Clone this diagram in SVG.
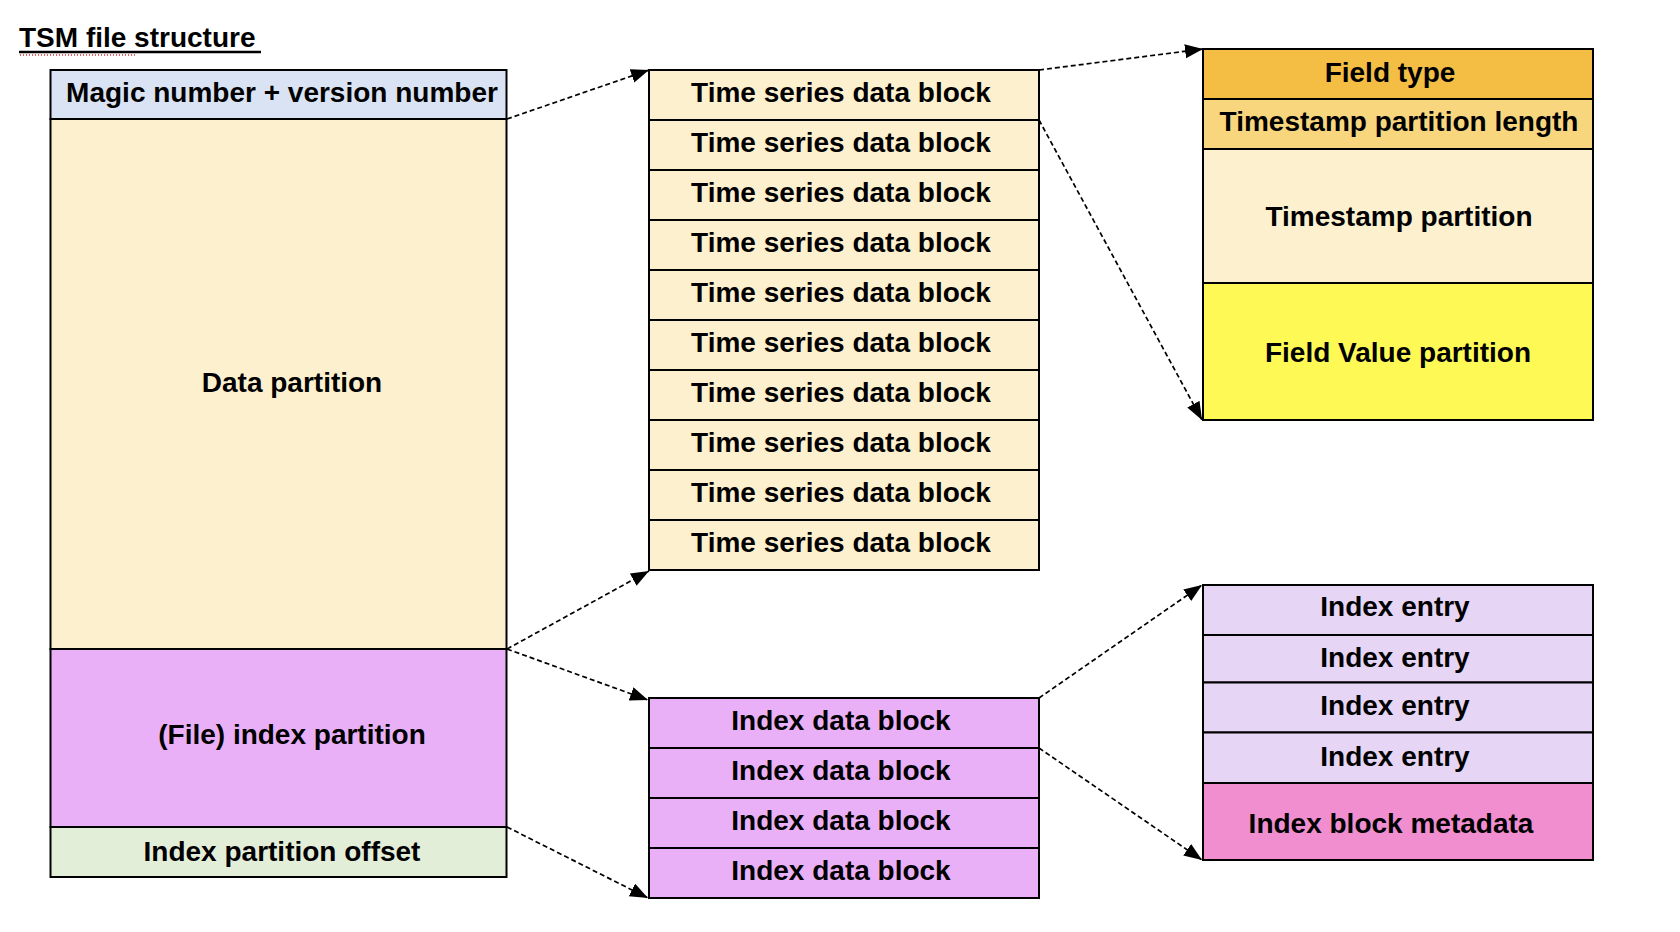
<svg xmlns="http://www.w3.org/2000/svg" width="1680" height="932" viewBox="0 0 1680 932">
<defs>
<style>
text{font-family:"Liberation Sans",Arial,sans-serif;font-weight:bold;font-size:28px;fill:#000;text-anchor:middle}
.b{stroke:#000;stroke-width:2}
.c{fill:none;stroke:#000;stroke-width:1.7;stroke-dasharray:5 3}
.magic{fill:#dae3f3}
.cream{fill:#fcf0cf}
.violet{fill:#e9b0f7}
.green{fill:#e3eed9}
.ftype{fill:#f4bd44}
.tpl{fill:#f8d67e}
.yellow{fill:#fef954}
.entry{fill:#e7d5f6}
.meta{fill:#f08ecf}
</style>
<marker id="ah" markerUnits="userSpaceOnUse" markerWidth="20" markerHeight="16" refX="18" refY="7" orient="auto">
<path d="M0,0 L18,7 L0,14 z" fill="#000"/>
</marker>
</defs>
<rect width="1680" height="932" fill="#fff"/>
<g id="title">
<text x="19" y="47" style="text-anchor:start">TSM file structure</text>
<line x1="19" y1="52" x2="261" y2="52" stroke="#000" stroke-width="2.5"/>
<line x1="20" y1="55" x2="137" y2="55" stroke="#e03030" stroke-width="1.5" stroke-dasharray="1 2"/>
</g>
<g id="tsm-file">
<g id="magic"><rect class="b magic" x="50.5" y="70" width="456" height="49"/><text x="282" y="102">Magic number + version number</text></g>
<g id="data-partition"><rect class="b cream" x="50.5" y="119" width="456" height="530"/><text x="292" y="392">Data partition</text></g>
<g id="index-partition"><rect class="b violet" x="50.5" y="649" width="456" height="178"/><text x="292" y="744">(File) index partition</text></g>
<g id="index-offset"><rect class="b green" x="50.5" y="827" width="456" height="50"/><text x="282" y="861">Index partition offset</text></g>
</g>
<g id="ts-blocks">
<g id="ts1"><rect class="b cream" x="649" y="70" width="390" height="50"/><text x="841" y="102">Time series data block</text></g>
<g id="ts2"><rect class="b cream" x="649" y="120" width="390" height="50"/><text x="841" y="152">Time series data block</text></g>
<g id="ts3"><rect class="b cream" x="649" y="170" width="390" height="50"/><text x="841" y="202">Time series data block</text></g>
<g id="ts4"><rect class="b cream" x="649" y="220" width="390" height="50"/><text x="841" y="252">Time series data block</text></g>
<g id="ts5"><rect class="b cream" x="649" y="270" width="390" height="50"/><text x="841" y="302">Time series data block</text></g>
<g id="ts6"><rect class="b cream" x="649" y="320" width="390" height="50"/><text x="841" y="352">Time series data block</text></g>
<g id="ts7"><rect class="b cream" x="649" y="370" width="390" height="50"/><text x="841" y="402">Time series data block</text></g>
<g id="ts8"><rect class="b cream" x="649" y="420" width="390" height="50"/><text x="841" y="452">Time series data block</text></g>
<g id="ts9"><rect class="b cream" x="649" y="470" width="390" height="50"/><text x="841" y="502">Time series data block</text></g>
<g id="ts10"><rect class="b cream" x="649" y="520" width="390" height="50"/><text x="841" y="552">Time series data block</text></g>
</g>
<g id="index-blocks">
<g id="ib1"><rect class="b violet" x="649" y="698" width="390" height="50"/><text x="841" y="730">Index data block</text></g>
<g id="ib2"><rect class="b violet" x="649" y="748" width="390" height="50"/><text x="841" y="780">Index data block</text></g>
<g id="ib3"><rect class="b violet" x="649" y="798" width="390" height="50"/><text x="841" y="830">Index data block</text></g>
<g id="ib4"><rect class="b violet" x="649" y="848" width="390" height="50"/><text x="841" y="880">Index data block</text></g>
</g>
<g id="ts-block-detail">
<g id="field-type"><rect class="b ftype" x="1203" y="49" width="390" height="50"/><text x="1390" y="82">Field type</text></g>
<g id="ts-length"><rect class="b tpl" x="1203" y="99" width="390" height="50"/><text x="1399" y="131">Timestamp partition length</text></g>
<g id="ts-partition"><rect class="b cream" x="1203" y="149" width="390" height="134"/><text x="1399" y="226">Timestamp partition</text></g>
<g id="fv-partition"><rect class="b yellow" x="1203" y="283" width="390" height="137"/><text x="1398" y="362">Field Value partition</text></g>
</g>
<g id="index-block-detail">
<g id="ie1"><rect class="b entry" x="1203" y="585" width="390" height="50"/><text x="1395" y="616">Index entry</text></g>
<g id="ie2"><rect class="b entry" x="1203" y="635" width="390" height="47.5"/><text x="1395" y="667">Index entry</text></g>
<g id="ie3"><rect class="b entry" x="1203" y="682.5" width="390" height="50"/><text x="1395" y="715">Index entry</text></g>
<g id="ie4"><rect class="b entry" x="1203" y="732.5" width="390" height="50.5"/><text x="1395" y="766">Index entry</text></g>
<g id="meta"><rect class="b meta" x="1203" y="783" width="390" height="77"/><text x="1391" y="833">Index block metadata</text></g>
</g>
<g id="connectors">
<line class="c" x1="507" y1="119" x2="649" y2="70" marker-end="url(#ah)"/>
<line class="c" x1="507" y1="649" x2="649" y2="571" marker-end="url(#ah)"/>
<line class="c" x1="507" y1="649" x2="648" y2="700" marker-end="url(#ah)"/>
<line class="c" x1="507" y1="827" x2="648" y2="898" marker-end="url(#ah)"/>
<line class="c" x1="1039" y1="70" x2="1203" y2="49" marker-end="url(#ah)"/>
<line class="c" x1="1039" y1="120" x2="1202" y2="420" marker-end="url(#ah)"/>
<line class="c" x1="1039" y1="698" x2="1202" y2="585" marker-end="url(#ah)"/>
<line class="c" x1="1039" y1="748" x2="1202" y2="860" marker-end="url(#ah)"/>
</g>
</svg>
